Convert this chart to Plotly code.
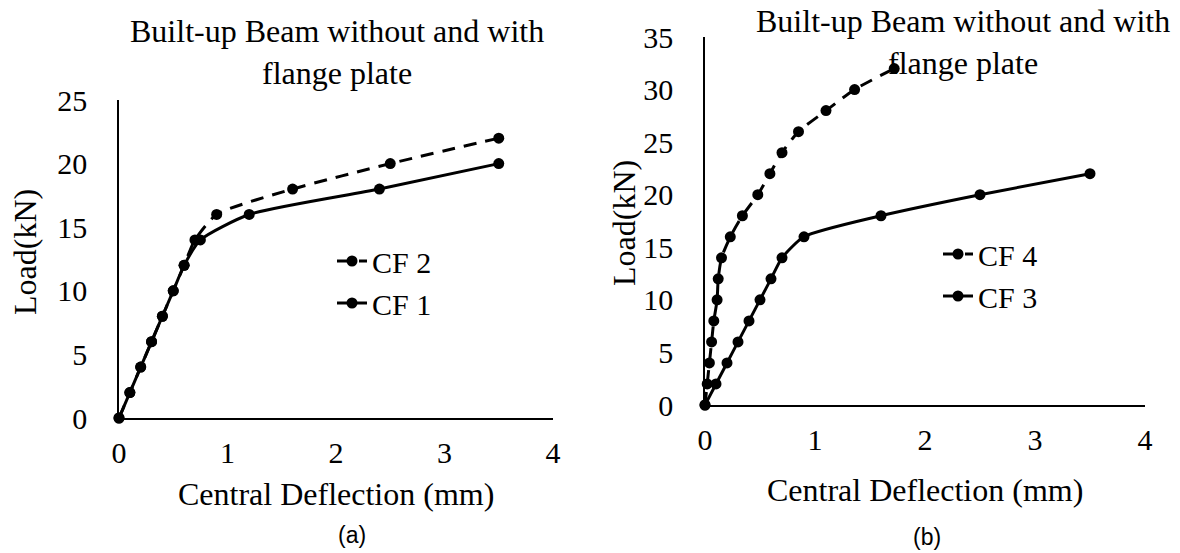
import plotly.graph_objects as go

# ---- data ----
cf1_x = [0, 0.1, 0.2, 0.3, 0.4, 0.5, 0.6, 0.75, 1.2, 2.4, 3.5]
cf1_y = [0, 2, 4, 6, 8, 10, 12, 14, 16, 18, 20]
cf2_x = [0, 0.1, 0.2, 0.3, 0.4, 0.5, 0.6, 0.7, 0.9, 1.6, 2.5, 3.5]
cf2_y = [0, 2, 4, 6, 8, 10, 12, 14, 16, 18, 20, 22]

cf3_x = [0, 0.1, 0.2, 0.3, 0.4, 0.5, 0.6, 0.7, 0.9, 1.6, 2.5, 3.5]
cf3_y = [0, 2, 4, 6, 8, 10, 12, 14, 16, 18, 20, 22]
cf4_x = [0, 0.02, 0.04, 0.06, 0.08, 0.11, 0.12, 0.15, 0.23, 0.34, 0.48, 0.59, 0.70, 0.85, 1.1, 1.36, 1.72]
cf4_y = [0, 2, 4, 6, 8, 10, 12, 14, 16, 18, 20, 22, 24, 26, 28, 30, 32]

x_ticks = [0, 1, 2, 3, 4]
title_text = "Built-up Beam without and with<br>flange plate"
x_title = "Central Deflection (mm)"
y_title = "Load(kN)"

W, H = 1180, 553
SERIF = "Liberation Serif, Times New Roman, serif"
FS_TICK = 30
FS_TITLE = 32
FS_LEG = 30

def px(x):
    return x / W

def py(y):
    return 1 - y / H

fig = go.Figure()

line_solid = dict(color="black", width=3, shape="spline", smoothing=0.6)
line_dash = dict(color="black", width=3, dash="13px,9px", shape="spline", smoothing=0.6)
mk = dict(symbol="circle", size=11, color="black")

fig.add_trace(go.Scatter(x=cf1_x, y=cf1_y, name="CF 1", mode="lines+markers",
                         line=line_solid, marker=mk, xaxis="x", yaxis="y",
                         legend="legend", cliponaxis=False))
fig.add_trace(go.Scatter(x=cf2_x, y=cf2_y, name="CF 2", mode="lines+markers",
                         line=line_dash, marker=mk, xaxis="x", yaxis="y",
                         legend="legend", cliponaxis=False))
fig.add_trace(go.Scatter(x=cf3_x, y=cf3_y, name="CF 3", mode="lines+markers",
                         line=line_solid, marker=mk, xaxis="x2", yaxis="y2",
                         legend="legend2", cliponaxis=False))
fig.add_trace(go.Scatter(x=cf4_x, y=cf4_y, name="CF 4", mode="lines+markers",
                         line=line_dash, marker=mk, xaxis="x2", yaxis="y2",
                         legend="legend2", cliponaxis=False))

xcommon = dict(range=[0, 4], tickvals=x_ticks, showgrid=False, zeroline=False,
               showline=True, linecolor="black", linewidth=2, ticks="",
               ticklabelstandoff=7, automargin=False,
               tickfont=dict(family=SERIF, size=FS_TICK, color="black"))
ycommon = dict(dtick=5, showgrid=False, zeroline=False, showline=True,
               linecolor="black", linewidth=1.5, ticks="", ticklabelstandoff=24,
               automargin=False,
               tickfont=dict(family=SERIF, size=FS_TICK, color="black"))

legend_common = dict(font=dict(family=SERIF, size=FS_LEG, color="black"),
                     traceorder="reversed", bgcolor="rgba(0,0,0,0)",
                     xanchor="left", yanchor="top", itemclick=False)

fig.update_layout(
    width=W, height=H,
    margin=dict(l=0, r=0, t=0, b=0, autoexpand=False),
    paper_bgcolor="white", plot_bgcolor="white",
    xaxis=dict(domain=[px(119), px(553)], anchor="y", **xcommon),
    yaxis=dict(domain=[py(418), py(100)], anchor="x", range=[0, 25], **ycommon),
    xaxis2=dict(domain=[px(705), px(1145)], anchor="y2", **xcommon),
    yaxis2=dict(domain=[py(405), py(37)], anchor="x2", range=[0, 35], **ycommon),
    legend=dict(x=px(332), y=py(235), **legend_common),
    legend2=dict(x=px(938), y=py(228), **legend_common),
    showlegend=True,
)

ann_font = dict(family=SERIF, size=FS_TITLE, color="black")
anns = [
    dict(text=title_text, x=px(337), y=py(52), xanchor="center", yanchor="middle"),
    dict(text=title_text, x=px(963), y=py(42), xanchor="center", yanchor="middle"),
    dict(text=x_title, x=px(336), y=py(494), xanchor="center", yanchor="middle"),
    dict(text=x_title, x=px(925), y=py(490), xanchor="center", yanchor="middle"),
    dict(text=y_title, x=px(25), y=py(252), xanchor="center", yanchor="middle", textangle=-90),
    dict(text=y_title, x=px(624), y=py(223), xanchor="center", yanchor="middle", textangle=-90),
]
for a in anns:
    fig.add_annotation(xref="paper", yref="paper", showarrow=False, font=ann_font, **a)

sub_font = dict(family="Liberation Sans, Arial, sans-serif", size=23, color="black")
fig.add_annotation(text="(a)", x=px(352), y=py(535), xref="paper", yref="paper",
                   showarrow=False, font=sub_font, xanchor="center", yanchor="middle")
fig.add_annotation(text="(b)", x=px(927), y=py(537), xref="paper", yref="paper",
                   showarrow=False, font=sub_font, xanchor="center", yanchor="middle")

fig.write_html("out.html")
